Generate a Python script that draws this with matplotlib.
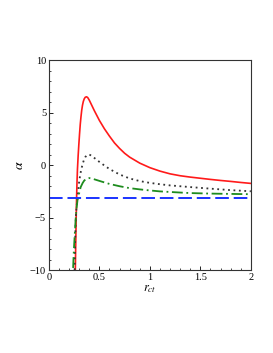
import matplotlib
matplotlib.use('Agg')
import matplotlib.pyplot as plt
import numpy as np

plt.rcParams['font.family'] = 'Liberation Serif'
plt.rcParams['mathtext.fontset'] = 'stix'

# values
x_red = [0.262, 0.266, 0.270, 0.274, 0.278, 0.283, 0.29, 0.297, 0.304, 0.311, 0.318, 0.325,
         0.333, 0.341, 0.35, 0.36, 0.373, 0.385, 0.40, 0.42, 0.45, 0.5, 0.55, 0.6, 0.65,
         0.7, 0.75, 0.8, 0.9, 1.0, 1.1, 1.2, 1.3, 1.4, 1.5, 1.6, 1.7, 1.8, 1.9, 2.0]
y_red = [-10, -7.5, -5.2, -3.3, -1.8, -0.4, 0.9, 2.0, 3.0, 3.9, 4.6, 5.2,
         5.7, 6.05, 6.3, 6.45, 6.5, 6.42, 6.18, 5.78, 5.18, 4.25, 3.45, 2.75, 2.1,
         1.58, 1.12, 0.75, 0.18, -0.25, -0.58, -0.84, -1.02, -1.15, -1.26, -1.37, -1.47,
         -1.56, -1.66, -1.75]

x_dot = [0.255, 0.26, 0.267, 0.275, 0.284, 0.292, 0.30, 0.31, 0.32, 0.333, 0.346, 0.36,
         0.375, 0.393, 0.41, 0.43, 0.46, 0.5, 0.55, 0.6, 0.7, 0.8, 0.9, 1.0, 1.1, 1.2,
         1.3, 1.4, 1.6, 1.8, 2.0]
y_dot = [-10, -7.3, -4.9, -3.9, -3.15, -2.3, -1.57, -0.95, -0.45, 0.05, 0.45, 0.75,
         0.93, 1.0, 0.95, 0.82, 0.6, 0.3, -0.05, -0.38, -0.9, -1.28, -1.53, -1.7, -1.83,
         -1.94, -2.02, -2.1, -2.25, -2.39, -2.5]

x_grn = [0.24, 0.248, 0.257, 0.265, 0.272, 0.284, 0.30, 0.315, 0.334, 0.35, 0.37, 0.40,
         0.43, 0.47, 0.52, 0.6, 0.7, 0.8, 0.9, 1.0, 1.1, 1.3, 1.4, 1.6, 1.8, 2.0]
y_grn = [-9.8, -8.0, -6.5, -5.2, -4.3, -3.3, -2.68, -2.1, -1.72, -1.48, -1.32, -1.24,
         -1.3, -1.42, -1.57, -1.8, -2.02, -2.2, -2.32, -2.42, -2.51, -2.62, -2.67, -2.72,
         -2.75, -2.78]

x_blue = [0, 2]
y_blue = [-3.1, -3.1]

fig = plt.figure(figsize=(2.73, 3.53), dpi=100)
ax = fig.add_axes([0.179, 0.235, 0.74, 0.595])

ax.plot(x_red, y_red, color='#ff1a1a', lw=1.2)
ax.plot(x_dot, y_dot, color='#333333', lw=1.3, linestyle=(0, (1, 2)))
ax.plot(x_grn, y_grn, color='#1e8c1e', lw=1.3, linestyle=(0, (6, 2, 1, 2)))
ax.plot(x_blue, y_blue, color='#1a33ff', lw=1.4, linestyle=(0, (7, 2.5)))

ax.set_xlim(0, 2)
ax.set_ylim(-10, 10)
ax.set_xticks([0, 0.5, 1, 1.5, 2])
ax.set_xticklabels(['0', '0.5', '1', '1.5', '2'])
ax.set_yticks([-10, -5, 0, 5, 10])
ax.set_yticklabels(['\u221210', '\u22125', '0', '5', '10'])
ax.set_xticks(np.arange(0, 2.01, 0.1), minor=True)
ax.set_yticks(np.arange(-10, 10.1, 1), minor=True)
ax.tick_params(direction='in', labelsize=7.5, length=3, width=0.6, pad=2)
ax.tick_params(which='minor', direction='in', length=1.5, width=0.5)
ax.tick_params(top=False, right=False)
for s in ax.spines.values():
    s.set_linewidth(0.8)
    s.set_color('#333333')

ax.set_xlabel(r'$r_{ct}$', fontsize=9, labelpad=1)
ax.set_ylabel(r'$\alpha$', fontsize=10, labelpad=3)

fig.savefig('out.png', dpi=100)
